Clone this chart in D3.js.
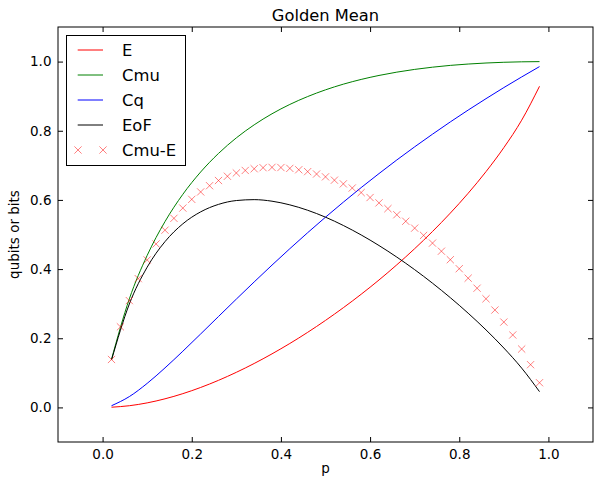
<!DOCTYPE html>
<html>
<head>
<meta charset="utf-8">
<script src="https://cdn.jsdelivr.net/npm/d3@7"></script>
<style>
  html, body { margin: 0; padding: 0; background: #fff; }
  svg { display: block; font-family: "DejaVu Sans", sans-serif; }
</style>
</head>
<body>
<svg id="chart" width="594" height="485"></svg>
<script>
// ---- data ----
const pLine = [0.02,0.06,0.10,0.14,0.18,0.22,0.26,0.30,0.34,0.38,0.42,0.46,0.50,
               0.54,0.58,0.62,0.66,0.70,0.74,0.78,0.82,0.86,0.90,0.94,0.98];
const E   = [0.0006,0.0049,0.0131,0.0249,0.0398,0.0577,0.0783,0.1015,0.1270,0.1549,0.1849,0.2171,0.2516,
             0.2883,0.3272,0.3685,0.4124,0.4590,0.5087,0.5619,0.6192,0.6818,0.7512,0.8305,0.9285];
const Cmu = [0.1392,0.3138,0.4395,0.5374,0.6162,0.6808,0.7344,0.7794,0.8171,0.8491,0.8761,0.8989,0.9183,
             0.9347,0.9484,0.9599,0.9695,0.9774,0.9838,0.9890,0.9929,0.9959,0.9980,0.9993,0.9999];
const Cq  = [0.0049,0.0313,0.0695,0.1143,0.1625,0.2124,0.2629,0.3132,0.3628,0.4115,0.4590,0.5052,0.5501,
             0.5935,0.6356,0.6762,0.7156,0.7535,0.7901,0.8256,0.8598,0.8928,0.9248,0.9556,0.9855];
const EoF = [0.1370,0.2990,0.4055,0.4794,0.5309,0.5655,0.5871,0.5982,0.6008,0.5963,0.5857,0.5701,0.5501,
             0.5261,0.4987,0.4681,0.4346,0.3983,0.3592,0.3173,0.2724,0.2241,0.1718,0.1137,0.0456];
const pMarker = [0.02,0.04,0.06,0.08,0.10,0.12,0.14,0.16,0.18,0.20,0.22,0.24,0.26,0.28,0.30,0.32,0.34,
                 0.36,0.38,0.40,0.42,0.44,0.46,0.48,0.50,0.52,0.54,0.56,0.58,0.60,0.62,0.64,0.66,0.68,
                 0.70,0.72,0.74,0.76,0.78,0.80,0.82,0.84,0.86,0.88,0.90,0.92,0.94,0.96,0.98];
const CmuMinusE = [0.1386,0.2330,0.3089,0.3724,0.4264,0.4727,0.5125,0.5468,0.5764,0.6016,0.6231,0.6411,
                   0.6561,0.6684,0.6779,0.6852,0.6901,0.6932,0.6942,0.6936,0.6912,0.6872,0.6818,0.6749,
                   0.6667,0.6571,0.6464,0.6344,0.6212,0.6069,0.5914,0.5748,0.5571,0.5383,0.5184,0.4974,
                   0.4751,0.4517,0.4271,0.4011,0.3737,0.3447,0.3141,0.2816,0.2468,0.2095,0.1688,0.1236,0.0714];
const xTicks = [0.0,0.2,0.4,0.6,0.8,1.0];
const yTicks = [0.0,0.2,0.4,0.6,0.8,1.0];
const seriesNames = ["E","Cmu","Cq","EoF","Cmu-E"];
const seriesColors = ["#ff0000","#008000","#0000ff","#000000","#ff0000"];

// ---- layout ----
const L = 58, R = 593, T = 27, B = 442;
const svg = d3.select("#chart");
const x = d3.scaleLinear().domain([-0.1, 1.1]).range([L, R]);
const y = d3.scaleLinear().domain([-0.1, 1.1]).range([B, T]);
const fmt = d3.format(".1f");

// plot background
svg.append("rect").attr("x", L).attr("y", T).attr("width", R - L).attr("height", B - T)
  .attr("fill", "#fff");

// axes (inward ticks on all sides)
const tickFont = "13.5px";
const gB = svg.append("g").attr("transform", `translate(0,${B})`)
  .call(d3.axisBottom(x).tickValues(xTicks).tickFormat(fmt).tickSize(-5).tickSizeOuter(0).tickPadding(7.5));
const gL = svg.append("g").attr("transform", `translate(${L},0)`)
  .call(d3.axisLeft(y).tickValues(yTicks).tickFormat(fmt).tickSize(-5).tickSizeOuter(0).tickPadding(6.5));
const gT = svg.append("g").attr("transform", `translate(0,${T})`)
  .call(d3.axisTop(x).tickValues(xTicks).tickFormat("").tickSize(-5).tickSizeOuter(0));
const gR = svg.append("g").attr("transform", `translate(${R},0)`)
  .call(d3.axisRight(y).tickValues(yTicks).tickFormat("").tickSize(-5).tickSizeOuter(0));
[gB, gL, gT, gR].forEach(g => {
  g.select(".domain").remove();
  g.selectAll(".tick line").attr("stroke", "#000").attr("stroke-width", 1);
  g.selectAll(".tick text").attr("fill", "#000").style("font-size", tickFont)
    .style("font-family", "DejaVu Sans, sans-serif");
});

// lines
const lineGen = vals => d3.line().x((d, i) => x(pLine[i])).y(d => y(d)).curve(d3.curveMonotoneX)(vals);
const lineData = [E, Cmu, Cq, EoF];
lineData.forEach((vals, k) => {
  svg.append("path").attr("d", lineGen(vals)).attr("fill", "none")
    .attr("stroke", seriesColors[k]).attr("stroke-width", 1);
});

// markers
const crossPath = "M-3.6,-3.6L3.6,3.6M-3.6,3.6L3.6,-3.6";
svg.append("g").selectAll("path").data(CmuMinusE).join("path")
  .attr("transform", (d, i) => `translate(${x(pMarker[i])},${y(d)})`)
  .attr("d", crossPath).attr("fill", "none")
  .attr("stroke", seriesColors[4]).attr("stroke-opacity", 0.5).attr("stroke-width", 1);

// frame
svg.append("rect").attr("x", L).attr("y", T).attr("width", R - L).attr("height", B - T)
  .attr("fill", "none").attr("stroke", "#000").attr("stroke-width", 1);

// title & labels
svg.append("text").attr("x", (L + R) / 2).attr("y", 20.5).attr("text-anchor", "middle")
  .style("font-size", "16.3px").text("Golden Mean");
svg.append("text").attr("x", (L + R) / 2).attr("y", 473).attr("text-anchor", "middle")
  .style("font-size", "13.5px").text("p");
svg.append("text").attr("transform", `translate(19,${(T + B) / 2}) rotate(-90)`)
  .attr("text-anchor", "middle").style("font-size", "13.5px").text("qubits or bits");

// legend
const lg = svg.append("g");
lg.append("rect").attr("x", 66.5).attr("y", 35.5).attr("width", 119).attr("height", 130)
  .attr("fill", "#fff").attr("stroke", "#000").attr("stroke-width", 1);
seriesNames.forEach((name, k) => {
  const yy = 50 + k * 25;
  if (k < 4) {
    lg.append("line").attr("x1", 77.7).attr("x2", 103).attr("y1", yy).attr("y2", yy)
      .attr("stroke", seriesColors[k]).attr("stroke-width", 1);
  } else {
    [78, 103].forEach(cx => {
      lg.append("path").attr("transform", `translate(${cx},${yy})`).attr("d", crossPath)
        .attr("fill", "none").attr("stroke", seriesColors[k]).attr("stroke-opacity", 0.5)
        .attr("stroke-width", 1);
    });
  }
  lg.append("text").attr("x", 122).attr("y", yy).attr("dy", "0.36em")
    .style("font-size", "16.4px").text(name);
});
</script>
</body>
</html>
